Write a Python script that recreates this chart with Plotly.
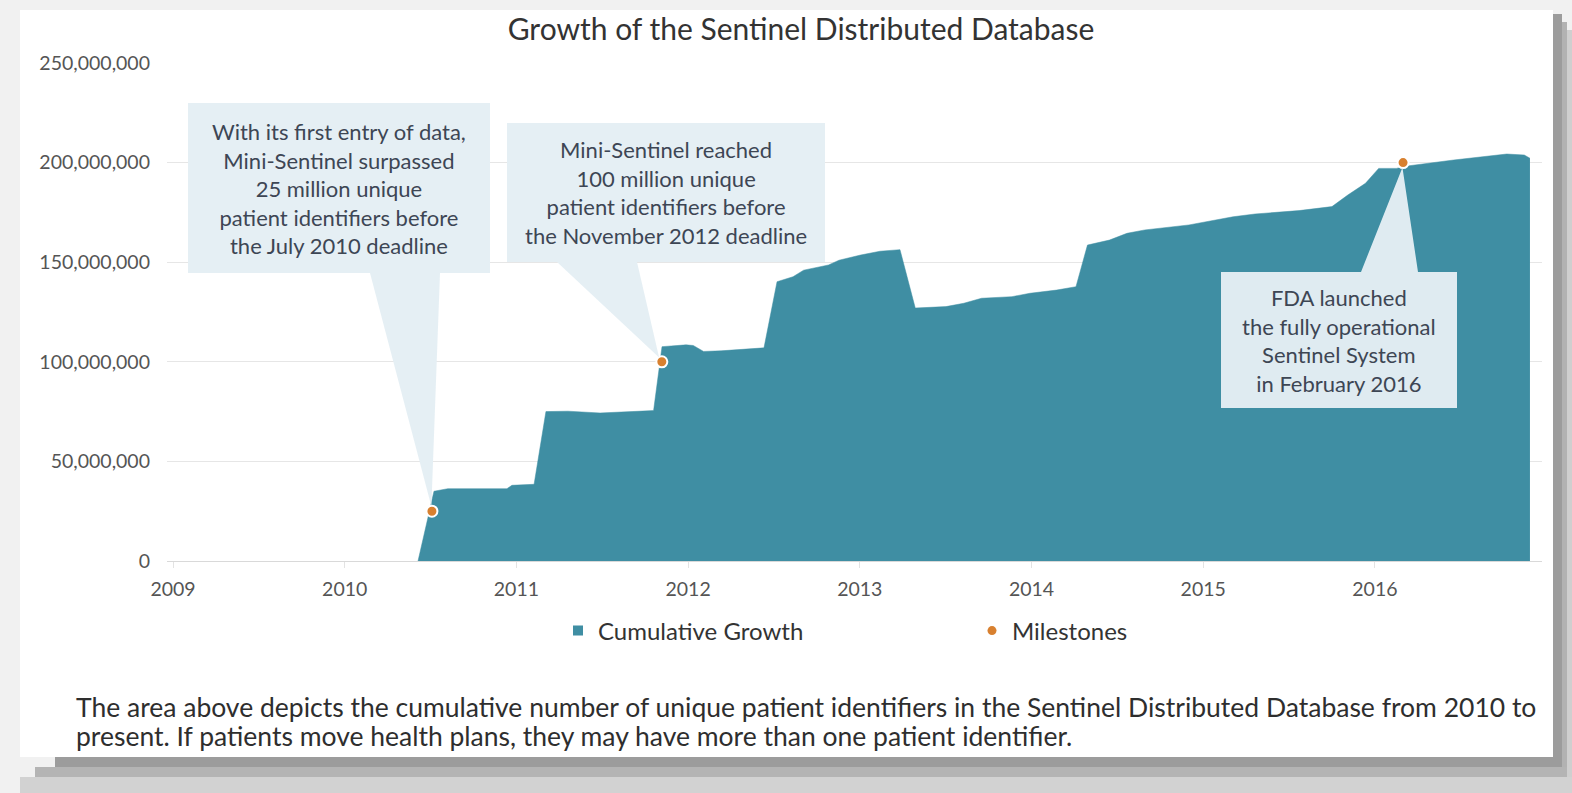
import plotly.graph_objects as go

# ---------------- data ----------------
growth_years = [2010.427, 2010.520, 2010.600, 2010.945, 2010.974, 2011.103, 2011.172, 2011.300,
                2011.487, 2011.720, 2011.799, 2011.848, 2011.988, 2012.030, 2012.090, 2012.192,
                2012.401, 2012.442, 2012.518, 2012.611, 2012.673, 2012.818, 2012.879, 2013.005,
                2013.118, 2013.234, 2013.323, 2013.502, 2013.606, 2013.709, 2013.886, 2013.991,
                2014.146, 2014.259, 2014.326, 2014.454, 2014.556, 2014.660, 2014.917, 2015.071,
                2015.174, 2015.302, 2015.558, 2015.750, 2015.842, 2015.945, 2016.022, 2016.125,
                2016.189, 2016.459, 2016.768, 2016.870, 2016.903]
growth_millions = [0, 35.0, 36.3, 36.3, 38.0, 38.5, 75.0, 75.2,
                   74.3, 75.0, 75.5, 107.6, 108.5, 108.2, 105.2, 105.5,
                   106.5, 107.0, 140.2, 142.7, 146.0, 148.6, 151.0, 153.6,
                   155.5, 156.3, 127.0, 127.7, 129.4, 131.9, 132.7, 134.4,
                   136.0, 137.7, 158.6, 161.1, 164.5, 166.2, 168.7, 171.2,
                   172.8, 174.2, 175.9, 177.9, 183.7, 189.6, 197.1, 197.1,
                   198.3, 201.3, 204.3, 203.8, 202.2]
growth_values = [v * 1e6 for v in growth_millions]

milestone_years = [2010.508, 2011.847, 2016.164]
milestone_values = [25e6, 100e6, 200e6]
milestone_notes = [
    "With its first entry of data,<br>Mini-Sentinel surpassed<br>25 million unique<br>patient identifiers before<br>the July 2010 deadline",
    "Mini-Sentinel reached<br>100 million unique<br>patient identifiers before<br>the November 2012 deadline",
    "FDA launched<br>the fully operational<br>Sentinel System<br>in February 2016",
]

x_tick_years = [2009, 2010, 2011, 2012, 2013, 2014, 2015, 2016]
y_tick_values = [0, 50e6, 100e6, 150e6, 200e6, 250e6]
y_tick_labels = ["0", "50,000,000", "100,000,000", "150,000,000", "200,000,000", "250,000,000"]

title_text = "Growth of the Sentinel Distributed Database"
caption_lines = [
    "The area above depicts the cumulative number of unique patient identifiers in the Sentinel Distributed Database from 2010 to",
    "present. If patients move health plans, they may have more than one patient identifier.",
]

# ---------------- layout geometry ----------------
W, H = 1572, 793
PL, PR, PT, PB = 167, 1542, 63, 561       # plot box in pixels
X0_PX, X_PER_YEAR = 173, 171.7            # pixel of 2009, pixels per year
Y_MAX = 250e6

def xdata(px):
    return 2009 + (px - X0_PX) / X_PER_YEAR

def ydata(py):
    return (PB - py) / (PB - PT) * Y_MAX

def xpix(xd):
    return X0_PX + (xd - 2009) * X_PER_YEAR

def ypix(yd):
    return PB - yd / Y_MAX * (PB - PT)

def px2paper_x(px):
    return (px - PL) / (PR - PL)

def px2paper_y(py):
    return (PB - py) / (PB - PT)

TEAL = "#3f8ea3"
ORANGE = "#d8802f"
BOX = "#e4eef4"
BOX_TEXT = "#3d4654"

fig = go.Figure()

fig.add_trace(go.Scatter(
    x=growth_years, y=growth_values, mode="lines", fill="tozeroy",
    line=dict(color=TEAL, width=0.5), fillcolor=TEAL,
    name="Cumulative Growth", showlegend=False, hoverinfo="x+y"))

fig.add_trace(go.Scatter(
    x=milestone_years, y=milestone_values, mode="markers",
    marker=dict(color=ORANGE, size=11, line=dict(color="white", width=2)),
    name="Milestones", showlegend=False))

# legend entries
fig.add_trace(go.Scatter(x=[None], y=[None], mode="markers",
                         marker=dict(symbol="square", color=TEAL, size=10),
                         name="Cumulative Growth"))
fig.add_trace(go.Scatter(x=[None], y=[None], mode="markers",
                         marker=dict(symbol="circle", color=ORANGE, size=9),
                         name="Milestones"))

shapes = []
annotations = []

# ---- card background with shadow ----
def prect(x0, y0, x1, y1, color):
    shapes.append(dict(type="rect", xref="paper", yref="paper",
                       x0=px2paper_x(x0), x1=px2paper_x(x1),
                       y0=px2paper_y(y1), y1=px2paper_y(y0),
                       fillcolor=color, line=dict(width=0), layer="below"))

prect(1567, 30, 1572, 793, "#cfcfcf")
prect(1562, 22, 1567, 787, "#b2b2b2")
prect(1553, 14, 1562, 777, "#9c9c9c")
prect(20, 777, 1572, 793, "#d2d2d2")
prect(35, 767, 1567, 777, "#b4b4b4")
prect(55, 757, 1562, 767, "#9c9c9c")
prect(20, 10, 1553, 757, "#ffffff")

# ---- callouts ----
callouts = [
    dict(l=188, r=490, t=103, b=273, bl=370, br=440, tx=339, top=False),
    dict(l=507, r=825, t=123, b=262, bl=557, br=637, tx=666, top=False),
    dict(l=1221, r=1457, t=272, b=408, bl=1361, br=1418, tx=1339, top=True),
]

for c, mx, my, note in zip(callouts, milestone_years, milestone_values, milestone_notes):
    tipx, tipy = xpix(mx), ypix(my)
    basey = c["t"] if c["top"] else c["b"]
    bx = (c["bl"] + c["br"]) / 2
    dx, dy = bx - tipx, basey - tipy
    dist = (dx * dx + dy * dy) ** 0.5
    tipx2, tipy2 = tipx + dx / dist * 5, tipy + dy / dist * 5
    if c["top"]:
        pts = [(c["l"], c["t"]), (c["bl"], c["t"]), (tipx2, tipy2), (c["br"], c["t"]),
               (c["r"], c["t"]), (c["r"], c["b"]), (c["l"], c["b"])]
    else:
        pts = [(c["l"], c["t"]), (c["r"], c["t"]), (c["r"], c["b"]), (c["br"], c["b"]),
               (tipx2, tipy2), (c["bl"], c["b"]), (c["l"], c["b"])]
    path = "M " + " L ".join(f"{xdata(px):.5f},{ydata(py):.1f}" for px, py in pts) + " Z"
    shapes.append(dict(type="path", xref="x", yref="y", path=path,
                       fillcolor=BOX, line=dict(width=0), layer="above", opacity=0.97))
    annotations.append(dict(xref="paper", yref="paper",
                            x=px2paper_x(c["tx"]), y=px2paper_y((c["t"] + c["b"]) / 2),
                            xanchor="center", yanchor="middle", align="center",
                            text=note, showarrow=False,
                            font=dict(family="Lato", size=22, color=BOX_TEXT)))

# ---- caption ----
for line, py in zip(caption_lines, [707, 736]):
    annotations.append(dict(xref="paper", yref="paper", x=px2paper_x(74), y=px2paper_y(py),
                            xanchor="left", yanchor="middle", text=line, showarrow=False,
                            font=dict(family="Lato", size=26.5, color="#2e2e2e")))

fig.update_layout(
    width=W, height=H,
    margin=dict(l=PL, r=W - PR, t=PT, b=H - PB, pad=0),
    paper_bgcolor="#f1f1f1", plot_bgcolor="rgba(0,0,0,0)",
    title=dict(text=title_text, x=801 / W, xanchor="center", y=1 - 29 / H, yanchor="middle",
               font=dict(family="Lato", size=30, color="#333333")),
    font=dict(family="Lato"),
    showlegend=True,
    legend=dict(orientation="h", x=px2paper_x(558), xanchor="left",
                y=px2paper_y(631), yanchor="middle",
                font=dict(family="Lato", size=24, color="#333333"),
                bgcolor="rgba(0,0,0,0)", entrywidth=369, entrywidthmode="pixels",
                itemclick=False),
    shapes=shapes, annotations=annotations,
    xaxis=dict(range=[xdata(PL), xdata(PR)], tickvals=x_tick_years,
               ticktext=[str(y) for y in x_tick_years],
               showgrid=False, zeroline=False, showline=True, linecolor="#d9d9d9", linewidth=1,
               ticks="outside", ticklen=6, tickcolor="#e3e3e3",
               tickfont=dict(family="Lato", size=19.5, color="#555555"),
               ticklabelstandoff=5, fixedrange=True),
    yaxis=dict(range=[0, Y_MAX], tickvals=y_tick_values, ticktext=y_tick_labels,
               showgrid=True, gridcolor="#e6e6e6", gridwidth=1, zeroline=False,
               tickfont=dict(family="Lato", size=19.5, color="#555555"),
               ticklabelstandoff=16, fixedrange=True),
)

fig.write_html("out.html")
